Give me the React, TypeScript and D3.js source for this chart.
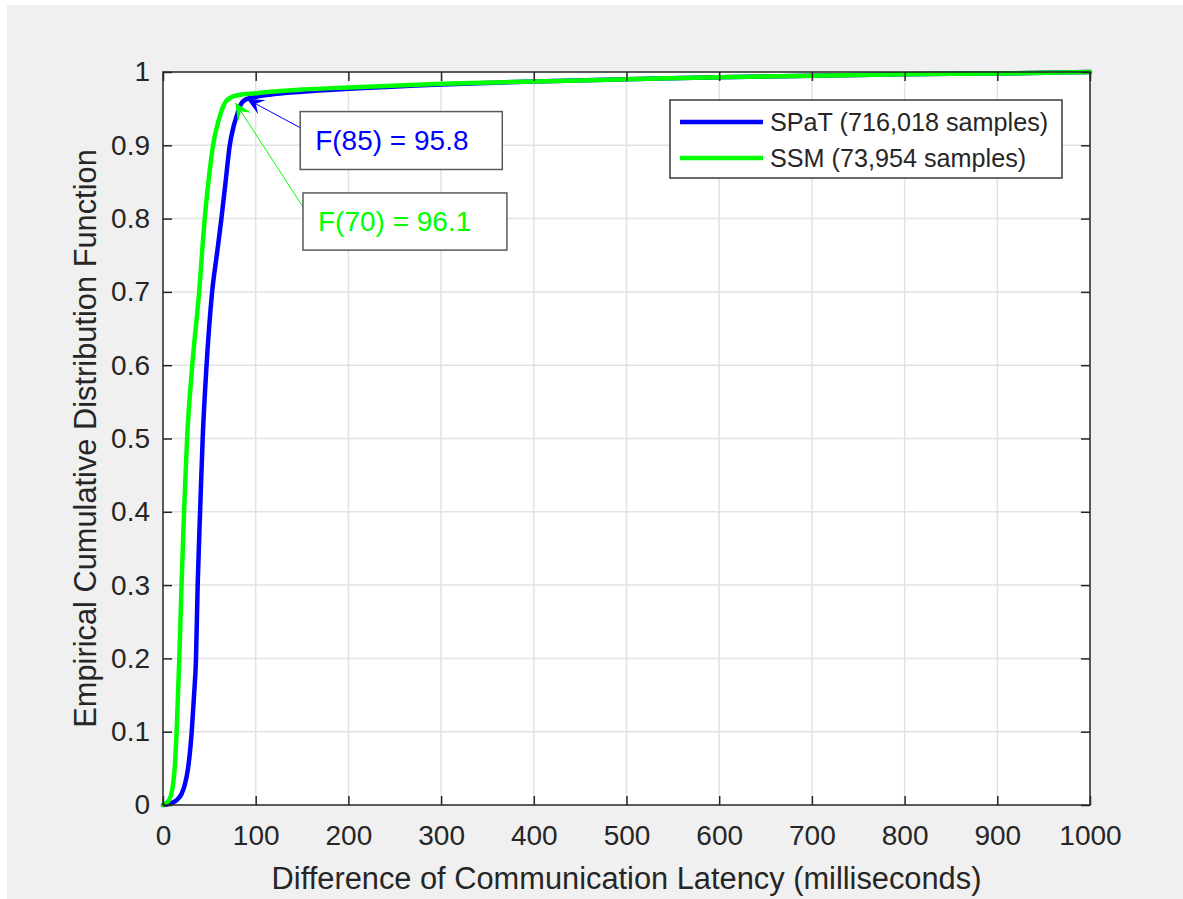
import React, { useEffect, useRef } from 'react';
import * as d3 from 'd3';

// latency (ms) / F(x) pairs
const spatX = [0, 5, 10, 15, 20, 24, 27, 31, 33.5, 35.6, 37.4, 40, 42.8, 47, 53, 58, 63, 67.5, 72, 76, 79, 82, 85, 90, 100, 115, 150, 200, 300, 400, 500, 600, 700, 800, 900, 1000];
const spatY = [0, 0.001, 0.003, 0.007, 0.015, 0.03, 0.05, 0.1, 0.15, 0.2, 0.3, 0.4, 0.5, 0.6, 0.7, 0.75, 0.8, 0.85, 0.9, 0.925, 0.938, 0.95, 0.958, 0.963, 0.966, 0.969, 0.973, 0.977, 0.983, 0.987, 0.99, 0.993, 0.995, 0.997, 0.998, 1];

const ssmX = [0, 4, 7, 9, 11, 12.6, 14.7, 17.6, 20, 22.7, 26, 31.6, 39, 45, 49, 54, 60, 64, 68.6, 79, 100, 115, 150, 200, 300, 400, 500, 600, 700, 800, 900, 1000];
const ssmY = [0, 0.003, 0.008, 0.015, 0.03, 0.05, 0.1, 0.2, 0.3, 0.4, 0.5, 0.6, 0.7, 0.8, 0.85, 0.9, 0.934, 0.95, 0.961, 0.968, 0.971, 0.973, 0.976, 0.979, 0.984, 0.987, 0.99, 0.993, 0.995, 0.997, 0.998, 1];

const seriesNames = ['SPaT (716,018 samples)', 'SSM (73,954 samples)'];
const seriesColors = ['#0000ff', '#00ff00'];

const xTicks = [0, 100, 200, 300, 400, 500, 600, 700, 800, 900, 1000];
const yTicks = [0, 0.1, 0.2, 0.3, 0.4, 0.5, 0.6, 0.7, 0.8, 0.9, 1];
const yTickLabels = ['0', '0.1', '0.2', '0.3', '0.4', '0.5', '0.6', '0.7', '0.8', '0.9', '1'];

// annotations: text, arrow tip, arrow tail, box (all in data units)
const noteTexts = ['F(85) = 95.8', 'F(70) = 96.1'];
const noteTips = [[90.6, 0.963], [78, 0.958]];
const noteTails = [[148, 0.924], [151, 0.816]];
const noteBoxes = [[148, 366, 0.946, 0.867], [151, 371, 0.835, 0.757]];

const W = 1183;
const H = 899;
const plot = { left: 163, right: 1090, top: 72, bottom: 805 };
const font = 'Arial, "Liberation Sans", sans-serif';
const textColor = '#262626';

const App = () => {
    const container = useRef(null);

    useEffect(() => {
        if (!container.current) return;
        const root = d3.select(container.current);
        root.selectAll('*').remove();

        const svg = root.append('svg')
            .attr('width', W)
            .attr('height', H)
            .style('display', 'block');

        svg.append('rect').attr('x', 7).attr('y', 5).attr('width', W - 7).attr('height', H - 5).attr('fill', '#f0f0f0');

        const x = d3.scaleLinear().domain([0, 1000]).range([plot.left, plot.right]);
        const y = d3.scaleLinear().domain([0, 1]).range([plot.bottom, plot.top]);

        svg.append('rect')
            .attr('x', plot.left).attr('y', plot.top)
            .attr('width', plot.right - plot.left).attr('height', plot.bottom - plot.top)
            .attr('fill', '#fff');

        // grid
        const grid = svg.append('g').attr('stroke', '#e2e2e2').attr('stroke-width', 1.5);
        grid.selectAll('.gx').data(xTicks.slice(1, -1)).join('line')
            .attr('x1', d => x(d)).attr('x2', d => x(d)).attr('y1', plot.top).attr('y2', plot.bottom);
        grid.selectAll('.gy').data(yTicks.slice(1, -1)).join('line')
            .attr('y1', d => y(d)).attr('y2', d => y(d)).attr('x1', plot.left).attr('x2', plot.right);

        // curves
        const line = d3.line<number[]>()
            .x(d => x(d[0]))
            .y(d => y(d[1]))
            .curve(d3.curveMonotoneX);
        const series = [
            d3.zip(spatX, spatY),
            d3.zip(ssmX, ssmY),
        ];
        series.forEach((pts, i) => {
            svg.append('path')
                .attr('d', line(pts))
                .attr('fill', 'none')
                .attr('stroke', seriesColors[i])
                .attr('stroke-width', 4.5)
                .attr('stroke-linejoin', 'round')
                .attr('stroke-linecap', 'round');
        });

        // axes
        const styleAxis = (g: any) => {
            g.select('.domain').remove();
            g.selectAll('line').attr('stroke', textColor).attr('stroke-width', 1.5);
            g.selectAll('text').attr('fill', textColor).style('font-family', font).style('font-size', '28px');
        };

        svg.append('g').attr('transform', `translate(0,${plot.bottom})`)
            .call(d3.axisBottom(x).tickValues(xTicks).tickSizeInner(-9).tickSizeOuter(0).tickPadding(20).tickFormat(d3.format('d')))
            .call(styleAxis);
        svg.append('g').attr('transform', `translate(0,${plot.top})`)
            .call(d3.axisTop(x).tickValues(xTicks).tickSizeInner(-9).tickSizeOuter(0).tickFormat(() => ''))
            .call(styleAxis);
        svg.append('g').attr('transform', `translate(${plot.left},0)`)
            .call(d3.axisLeft(y).tickValues(yTicks).tickSizeInner(-9).tickSizeOuter(0).tickPadding(13).tickFormat((d, i) => yTickLabels[i]))
            .call(styleAxis);
        svg.append('g').attr('transform', `translate(${plot.right},0)`)
            .call(d3.axisRight(y).tickValues(yTicks).tickSizeInner(-9).tickSizeOuter(0).tickFormat(() => ''))
            .call(styleAxis);

        svg.append('rect')
            .attr('x', plot.left).attr('y', plot.top)
            .attr('width', plot.right - plot.left).attr('height', plot.bottom - plot.top)
            .attr('fill', 'none').attr('stroke', textColor).attr('stroke-width', 1.5);

        // axis labels
        svg.append('text')
            .attr('x', (plot.left + plot.right) / 2)
            .attr('y', 889)
            .attr('text-anchor', 'middle')
            .attr('fill', textColor)
            .style('font-family', font).style('font-size', '30.8px')
            .text('Difference of Communication Latency (milliseconds)');

        svg.append('text')
            .attr('transform', `translate(96,${(plot.top + plot.bottom) / 2}) rotate(-90)`)
            .attr('text-anchor', 'middle')
            .attr('fill', textColor)
            .style('font-family', font).style('font-size', '30.8px')
            .text('Empirical Cumulative Distribution Function');

        // annotations
        noteTexts.forEach((t, i) => {
            const color = seriesColors[i];
            const [bx0, bx1, by0, by1] = noteBoxes[i];
            const [tx, ty] = noteTails[i];
            const [px, py] = noteTips[i];
            const x0 = x(tx), y0 = y(ty), x1 = x(px), y1 = y(py);
            const ang = Math.atan2(y1 - y0, x1 - x0) * 180 / Math.PI;
            svg.append('line')
                .attr('x1', x0).attr('y1', y0).attr('x2', x1).attr('y2', y1)
                .attr('stroke', color).attr('stroke-width', 1);
            svg.append('path')
                .attr('d', 'M0,0 L-17,-8 L-10,0 L-17,8 Z')
                .attr('transform', `translate(${x1},${y1}) rotate(${ang})`)
                .attr('fill', color);
            svg.append('rect')
                .attr('x', x(bx0)).attr('y', y(by0))
                .attr('width', x(bx1) - x(bx0)).attr('height', y(by1) - y(by0))
                .attr('fill', '#fff').attr('stroke', '#5a5a5a').attr('stroke-width', 1.5);
            svg.append('text')
                .attr('x', x(bx0) + 15)
                .attr('y', (y(by0) + y(by1)) / 2)
                .attr('dy', '0.35em')
                .attr('fill', color)
                .style('font-family', font).style('font-size', '28px')
                .text(t);
        });

        // legend
        const legend = svg.append('g').attr('transform', 'translate(670,100)');
        legend.append('rect')
            .attr('width', 392).attr('height', 78)
            .attr('fill', '#fff').attr('stroke', '#3a3a3a').attr('stroke-width', 1.5);
        seriesNames.forEach((name, i) => {
            const ly = 22 + i * 36;
            legend.append('line')
                .attr('x1', 10).attr('x2', 93).attr('y1', ly).attr('y2', ly)
                .attr('stroke', seriesColors[i]).attr('stroke-width', 4.5);
            legend.append('text')
                .attr('x', 100).attr('y', ly).attr('dy', '0.35em')
                .attr('fill', textColor)
                .style('font-family', font).style('font-size', '25.2px')
                .text(name);
        });
    }, []);

    return (<div ref={container} style={{ position: 'absolute', left: 0, top: 0 }} />);
};

export default App;
